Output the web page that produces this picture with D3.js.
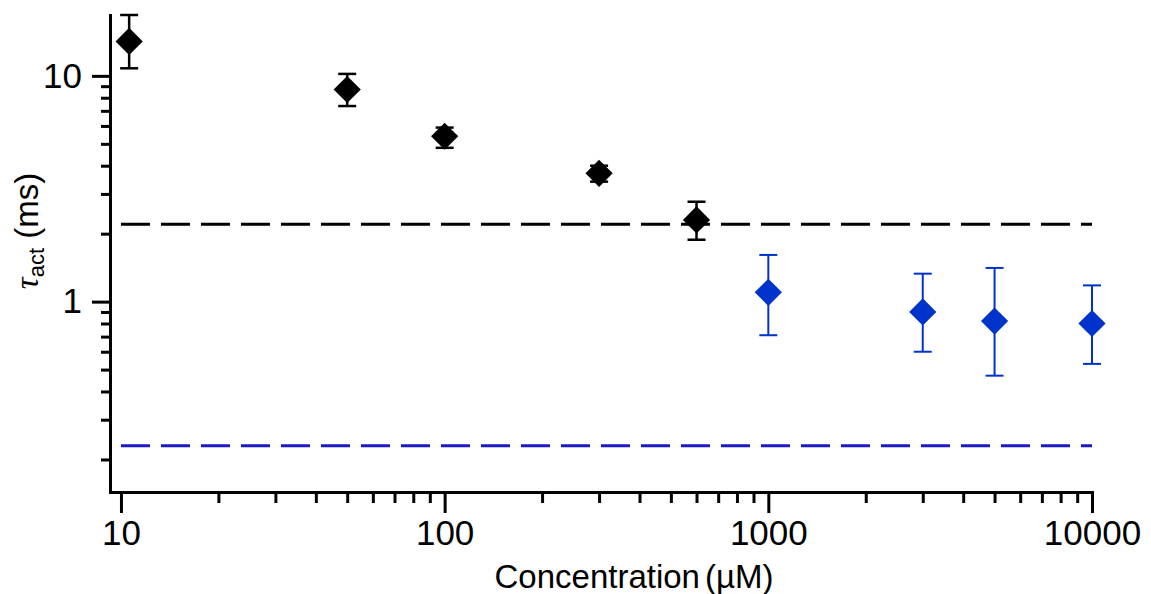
<!DOCTYPE html>
<html>
<head>
<meta charset="utf-8">
<script src="https://cdn.jsdelivr.net/npm/d3@7"></script>
<style>
  body { margin: 0; background: #fff; }
  text { font-family: "Liberation Sans", Arial, sans-serif; fill: #000; }
  .axis path, .axis line { stroke: #000; stroke-width: 3; }
  .axis path { stroke-linecap: square; }
</style>
</head>
<body>
<div id="chart-area"></div>
<script>
// Activation time constant (tau_act) against concentration, log-log

// Low concentrations (black)
var lowConc = [10.6, 50, 100, 300, 600];
var lowTau = [14.2, 8.7, 5.4, 3.7, 2.3];
var lowErrUp = [4.4, 1.5, 0.5, 0.3, 0.47];
var lowErrDown = [3.4, 1.35, 0.6, 0.3, 0.42];

// High concentrations (blue)
var highConc = [1000, 3000, 5000, 10000];
var highTau = [1.1, 0.9, 0.82, 0.8];
var highErrUp = [0.51, 0.43, 0.59, 0.38];
var highErrDown = [0.39, 0.30, 0.35, 0.27];

// Dashed reference levels
var refLevels = [2.2, 0.23];
var refColors = ["#000000", "#1a1ac4"];

// Labelled ticks
var xMajor = [10, 100, 1000, 10000];
var yMajor = [1, 10];

var black = "#000000",
    blue = "#0033cc";

// Setting up svg chart area
var margin = { left: 110, right: 59, top: 15, bottom: 102 };

var width = 1151 - margin.left - margin.right,
    height = 594 - margin.top - margin.bottom;

var svg = d3.select("#chart-area")
    .append("svg")
        .attr("width", width + margin.left + margin.right)
        .attr("height", height + margin.top + margin.bottom);

var g = svg.append("g")
    .attr("transform", "translate(" + margin.left + ", " + margin.top + ")");

// Scales
var x = d3.scaleLog()
    .domain([9.25, 10000])
    .range([0, width]);

var y = d3.scaleLog()
    .domain([0.1435, 18.6])
    .range([height, 0]);

// Minor tick positions (2..9 in every decade inside the domain)
function minorTicks(scale) {
    var d = scale.domain(), out = [];
    for (var e = -2; e <= 4; e++) {
        for (var m = 2; m <= 9; m++) {
            var v = m * Math.pow(10, e);
            if (v >= d[0] && v <= d[1]) out.push(v);
        }
    }
    return out;
}

// X axis
var xAxisGroup = g.append("g")
    .attr("class", "x axis")
    .attr("transform", "translate(0," + height + ")");

xAxisGroup.append("g")
    .call(d3.axisBottom(x).tickValues(minorTicks(x)).tickSize(11)
        .tickSizeOuter(0).tickFormat(""));
xAxisGroup.append("g")
    .call(d3.axisBottom(x).tickValues(xMajor).tickSize(21)
        .tickSizeOuter(0).tickPadding(7).tickFormat(d3.format("d")));

// Y axis
var yAxisGroup = g.append("g")
    .attr("class", "y axis");

yAxisGroup.append("g")
    .call(d3.axisLeft(y).tickValues(minorTicks(y)).tickSize(9)
        .tickSizeOuter(0).tickFormat(""));
yAxisGroup.append("g")
    .call(d3.axisLeft(y).tickValues(yMajor).tickSize(18)
        .tickSizeOuter(0).tickPadding(10).tickFormat(d3.format("d")));

g.selectAll(".axis text")
    .attr("font-size", "35px")
    .attr("font-family", "'Liberation Sans', Arial, sans-serif")
    .attr("fill", "#000");

// X Label
var xLabel = g.append("text")
    .attr("x", 634 - margin.left)
    .attr("y", height + 96)
    .attr("font-size", "33px")
    .attr("text-anchor", "middle");
xLabel.append("tspan").text("Concentration");
xLabel.append("tspan").attr("dx", 5).text("(\u00b5M)");

// Y Label
var yLabel = svg.append("text")
    .attr("transform", "translate(38, 231) rotate(-90)")
    .attr("font-size", "33px")
    .attr("text-anchor", "middle");
yLabel.append("tspan")
    .attr("font-family", "'Liberation Serif', serif")
    .attr("font-style", "italic")
    .text("\u03c4");
yLabel.append("tspan")
    .attr("font-size", "22px")
    .attr("dy", 6)
    .text("act");
yLabel.append("tspan")
    .attr("dy", -6)
    .text(" (ms)");

// Dashed reference lines
g.selectAll("line.ref")
    .data(refLevels)
    .enter()
    .append("line")
        .attr("class", "ref")
        .attr("x1", x(10))
        .attr("x2", x(10000))
        .attr("y1", function(d) { return y(d); })
        .attr("y2", function(d) { return y(d); })
        .attr("stroke", function(d, i) { return refColors[i]; })
        .attr("stroke-width", 3)
        .attr("stroke-dasharray", "29 11");

// Build point rows for each series
function rows(conc, tau, up, down) {
    return conc.map(function(c, i) {
        return { conc: c, tau: tau[i], hi: tau[i] + up[i], lo: tau[i] - down[i] };
    });
}

var series = [
    { color: black, width: 2.5, points: rows(lowConc, lowTau, lowErrUp, lowErrDown) },
    { color: blue, width: 2, points: rows(highConc, highTau, highErrUp, highErrDown) }
];

var capHalf = 9;
var diamond = d3.symbol().type(d3.symbolSquare).size(370);

series.forEach(function(s) {
    var pts = g.append("g").selectAll("g")
        .data(s.points)
        .enter()
        .append("g")
            .attr("transform", function(d) { return "translate(" + x(d.conc) + ",0)"; });

    // Error bars
    pts.append("line")
        .attr("y1", function(d) { return y(d.hi); })
        .attr("y2", function(d) { return y(d.lo); })
        .attr("stroke", s.color)
        .attr("stroke-width", s.width);
    pts.append("line")
        .attr("x1", -capHalf).attr("x2", capHalf)
        .attr("y1", function(d) { return y(d.hi); })
        .attr("y2", function(d) { return y(d.hi); })
        .attr("stroke", s.color)
        .attr("stroke-width", s.width);
    pts.append("line")
        .attr("x1", -capHalf).attr("x2", capHalf)
        .attr("y1", function(d) { return y(d.lo); })
        .attr("y2", function(d) { return y(d.lo); })
        .attr("stroke", s.color)
        .attr("stroke-width", s.width);

    // Diamond markers
    pts.append("path")
        .attr("d", diamond)
        .attr("transform", function(d) { return "translate(0," + y(d.tau) + ") rotate(45)"; })
        .attr("fill", s.color);
});
</script>
</body>
</html>
